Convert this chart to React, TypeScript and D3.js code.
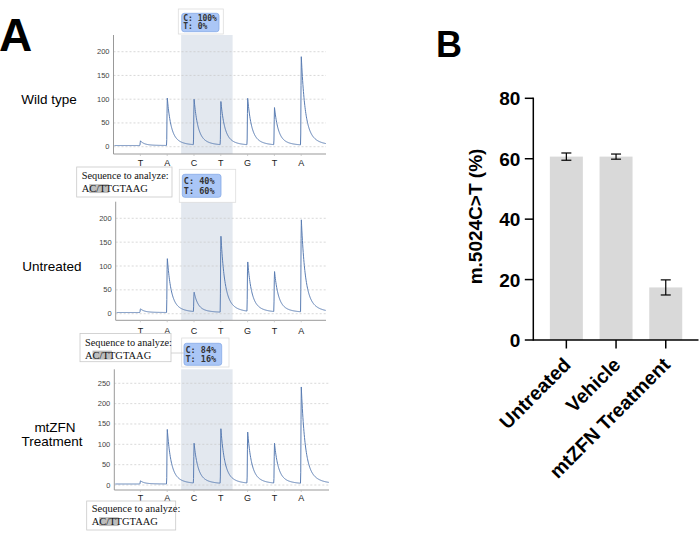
import React from "react";
import * as d3 from "d3";

// ---------- DATA ----------
const bases = ["T", "A", "C", "T", "G", "T", "A"];
const wildTypePeaks = [10, 102, 98, 93, 100, 80, 190];
const untreatedPeaks = [8, 117, 42, 165, 107, 87, 200];
const mtzfnPeaks = [8, 137, 100, 137, 128, 100, 242];
const wildTypeTicks = [0, 50, 100, 150, 200];
const untreatedTicks = [0, 50, 100, 150, 200];
const mtzfnTicks = [0, 50, 100, 150, 200, 250];
const wildTypeCall = ["C: 100%", "T: 0%"];
const untreatedCall = ["C: 40%", "T: 60%"];
const mtzfnCall = ["C: 84%", "T: 16%"];
const sequenceText = "AC/TTGTAAG";

const barCategories = ["Untreated", "Vehicle", "mtZFN Treatment"];
const barMeans = [60.7, 60.7, 17.4];
const barErrors = [1.2, 0.85, 2.5];
const barTicks = [0, 20, 40, 60, 80];

const FONT = "Arial, 'Liberation Sans', Helvetica, sans-serif";
const SERIF = "'Liberation Serif', 'Times New Roman', serif";
const MONO = "'DejaVu Sans Mono', 'Liberation Mono', monospace";

const xIdx = d3.scaleLinear().domain([0, 6]).range([140.4, 301.2]);
const PX_PER_BASE = xIdx(1) - xIdx(0);

function peakShape(dpx: number) {
  if (dpx < -0.5) return 0;
  if (dpx < 0) return 1 + dpx / 0.5;
  return 0.8 * Math.exp(-dpx / 3.6) + 0.2 * Math.exp(-dpx / 11);
}

type PanelProps = {
  peaks: number[];
  ticks: number[];
  y0: number;
  yMaxTick: number;
  yTop: number;
  yBottom: number;
  axisLeft: number;
  axisRight: number;
  letterY: number;
  call: string[];
  outer: [number, number, number, number];
  inner: [number, number, number, number];
  callFs: number;
};

function Pyrogram(p: PanelProps) {
  const maxT = p.ticks[p.ticks.length - 1];
  const y = d3.scaleLinear().domain([0, maxT]).range([p.y0, p.yMaxTick]);
  const pts: [number, number][] = [];
  const tStart = xIdx.invert(p.axisLeft + 1);
  const tEnd = xIdx.invert(p.axisRight);
  for (let t = tStart; t <= tEnd; t += 0.01) {
    let v = 2.5 - 0.3 * ((t - tStart) / (tEnd - tStart));
    p.peaks.forEach((h, k) => {
      v += h * peakShape((t - k) * PX_PER_BASE);
    });
    pts.push([xIdx(t), y(v)]);
  }
  const line = d3.line<[number, number]>().x((d) => d[0]).y((d) => d[1]);
  const shadeX0 = xIdx(1.52);
  const shadeX1 = xIdx(3.44);
  return (
    <g>
      <rect x={shadeX0} y={p.yTop} width={shadeX1 - shadeX0} height={p.yBottom - p.yTop} fill="#e3e8ef" />
      {p.ticks.map((t) => (
        <g key={t}>
          <line x1={p.axisLeft} x2={p.axisRight} y1={y(t)} y2={y(t)} stroke="#c8c8c8" strokeWidth={0.7} strokeDasharray="2,2" />
          <text x={p.axisLeft - 4} y={y(t) + 2.5} fontSize={7.5} fill="#444" textAnchor="end" fontFamily={FONT}>
            {t}
          </text>
        </g>
      ))}
      <line x1={p.axisLeft} x2={p.axisLeft} y1={p.yTop} y2={p.yBottom} stroke="#999" strokeWidth={1} />
      <line x1={p.axisLeft} x2={p.axisRight} y1={p.yBottom} y2={p.yBottom} stroke="#999" strokeWidth={1} />
      {bases.map((b, i) => (
        <g key={i}>
          <line x1={xIdx(i)} x2={xIdx(i)} y1={p.yBottom} y2={p.yBottom + 2} stroke="#bbb" strokeWidth={0.7} />
          <text x={xIdx(i)} y={p.letterY + 3.3} fontSize={9} fill="#222" textAnchor="middle" fontFamily={FONT}>
            {b}
          </text>
        </g>
      ))}
      <path d={line(pts) || ""} fill="none" stroke="#5a7db3" strokeWidth={1} />
      <rect x={p.outer[0]} y={p.outer[1]} width={p.outer[2]} height={p.outer[3]} fill="#fff" stroke="#ddd" strokeWidth={0.8} />
      <rect x={p.inner[0]} y={p.inner[1]} width={p.inner[2]} height={p.inner[3]} rx={2.5} fill="#aac6f6" stroke="#86a9e6" strokeWidth={0.8} />
      {p.call.map((c, i) => (
        <text key={i} x={p.inner[0] + 1.5} y={p.inner[1] + p.inner[3] * (i === 0 ? 0.43 : 0.85)} fontSize={p.callFs} fontWeight="bold" fill="#333" fontFamily={MONO}>
          {c}
        </text>
      ))}
    </g>
  );
}

function SeqBox({ x, y, w, h, fs1, fs2, b1, b2 }: { x: number; y: number; w: number; h: number; fs1: number; fs2: number; b1: number; b2: number }) {
  const tx = x + 5;
  return (
    <g>
      <rect x={x} y={y} width={w} height={h} fill="#fff" stroke="#c9c9c9" strokeWidth={0.8} />
      <text x={tx} y={b1} fontSize={fs1} fontFamily={SERIF} fill="#111">
        Sequence to analyze:
      </text>
      <rect x={tx + 0.72 * fs2} y={b2 - fs2 * 0.75} width={1.556 * fs2 + 3} height={fs2 * 0.85} fill="#bdbdbd" />
      <text x={tx} y={b2} fontSize={fs2} fontFamily={SERIF} fill="#111">
        {sequenceText}
      </text>
    </g>
  );
}

function BarChart() {
  const y = d3.scaleLinear().domain([0, 80]).range([340, 98.3]);
  const x = d3.scaleBand<string>().domain(barCategories).range([541.5, 690.6]).paddingInner(0.336).paddingOuter(0.168);
  const axX = 533.3;
  return (
    <g fontFamily={FONT} fontWeight="bold">
      {barCategories.map((c, i) => {
        const x0 = x(c) as number;
        const cx = x0 + x.bandwidth() / 2;
        return (
          <g key={c}>
            <rect x={x0} y={y(barMeans[i])} width={x.bandwidth()} height={y(0) - y(barMeans[i])} fill="#d9d9d9" />
            <line x1={cx} x2={cx} y1={y(barMeans[i] + barErrors[i])} y2={y(barMeans[i] - barErrors[i])} stroke="#000" strokeWidth={1.2} />
            <line x1={cx - 5} x2={cx + 5} y1={y(barMeans[i] + barErrors[i])} y2={y(barMeans[i] + barErrors[i])} stroke="#000" strokeWidth={1.2} />
            <line x1={cx - 5} x2={cx + 5} y1={y(barMeans[i] - barErrors[i])} y2={y(barMeans[i] - barErrors[i])} stroke="#000" strokeWidth={1.2} />
            <line x1={cx} x2={cx} y1={340} y2={348.5} stroke="#000" strokeWidth={1.5} />
            <text transform={`translate(${cx + 5.5},${366}) rotate(-45)`} textAnchor="end" fontSize={19.5} fill="#000">
              {c}
            </text>
          </g>
        );
      })}
      <line x1={axX} x2={axX} y1={y(80) - 0.7} y2={340.7} stroke="#000" strokeWidth={1.5} />
      <line x1={axX} x2={698.5} y1={340} y2={340} stroke="#000" strokeWidth={1.5} />
      {barTicks.map((t) => (
        <g key={t}>
          <line x1={axX - 8.5} x2={axX} y1={y(t)} y2={y(t)} stroke="#000" strokeWidth={1.5} />
          <text x={axX - 13} y={y(t) + 7} textAnchor="end" fontSize={19} fill="#000">
            {t}
          </text>
        </g>
      ))}
      <text transform={`translate(${482},${216.5}) rotate(-90)`} textAnchor="middle" fontSize={19} fill="#000">
        m.5024C&gt;T (%)
      </text>
      <text x={436} y={56.5} fontSize={36} fill="#000">
        B
      </text>
    </g>
  );
}

export default function App() {
  return (
    <svg width={699} height={537} style={{ position: "absolute", left: 0, top: 0, background: "#fff" }}>
      <rect width={699} height={537} fill="#fff" />
      <text x={-1} y={51} fontSize={46} fontWeight="bold" fontFamily={FONT} fill="#000">
        A
      </text>
      <g fontFamily={FONT} fontSize={13.5} fill="#000" textAnchor="middle">
        <text x={49} y={104}>Wild type</text>
        <text x={52} y={271}>Untreated</text>
        <text x={55} y={432}>mtZFN</text>
        <text x={52} y={446}>Treatment</text>
      </g>

      <Pyrogram
        peaks={wildTypePeaks}
        ticks={wildTypeTicks}
        y0={146.7}
        yMaxTick={51.7}
        yTop={35}
        yBottom={154}
        axisLeft={113.5}
        axisRight={326}
        letterY={162.7}
        call={wildTypeCall}
        outer={[178.3, 9, 45, 25]}
        inner={[181.7, 13.3, 37.3, 18.4]}
        callFs={8}
      />
      <Pyrogram
        peaks={untreatedPeaks}
        ticks={untreatedTicks}
        y0={313.7}
        yMaxTick={218.3}
        yTop={201.7}
        yBottom={320.3}
        axisLeft={115.7}
        axisRight={326}
        letterY={330.7}
        call={untreatedCall}
        outer={[179.3, 169.3, 56.4, 33]}
        inner={[182.3, 174.3, 38.7, 23]}
        callFs={8.5}
      />
      <Pyrogram
        peaks={mtzfnPeaks}
        ticks={mtzfnTicks}
        y0={485}
        yMaxTick={383.3}
        yTop={369.3}
        yBottom={490}
        axisLeft={114.3}
        axisRight={329}
        letterY={497.7}
        call={mtzfnCall}
        outer={[181.7, 338, 47.3, 29]}
        inner={[184, 343.3, 37.7, 22]}
        callFs={8.5}
      />

      <SeqBox x={76.7} y={167} w={95.3} h={30} fs1={10.3} fs2={10.5} b1={179} b2={192} />
      <SeqBox x={80} y={333.5} w={91} h={28.2} fs1={10.3} fs2={10.5} b1={345.5} b2={358.5} />
      <line x1={171} x2={184} y1={353} y2={353} stroke="#c9c9c9" strokeWidth={0.8} />
      <SeqBox x={86.7} y={501} w={89} h={29} fs1={10.5} fs2={10.5} b1={512} b2={525} />

      <BarChart />
    </svg>
  );
}
